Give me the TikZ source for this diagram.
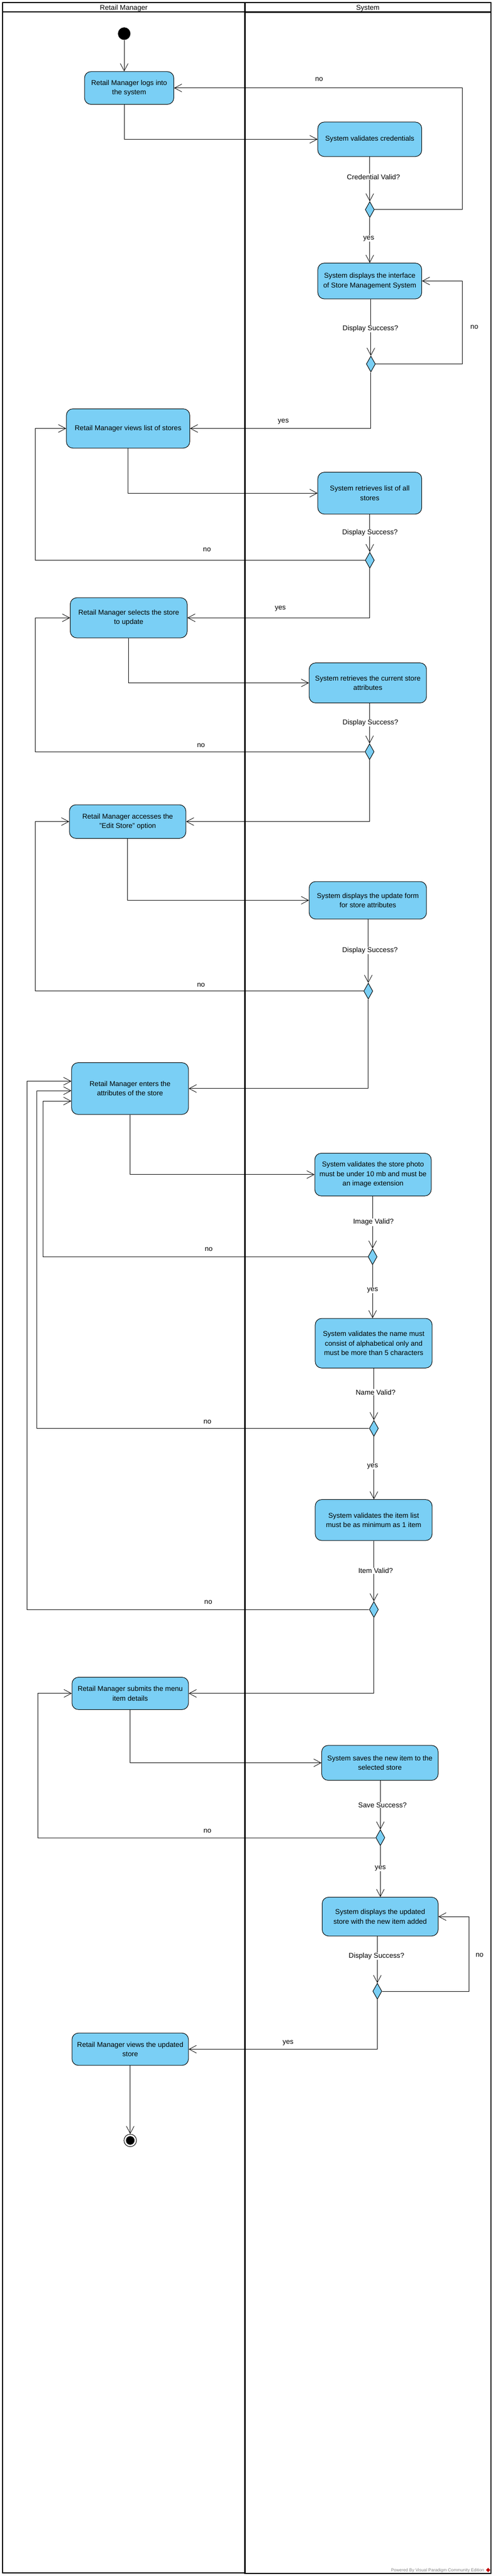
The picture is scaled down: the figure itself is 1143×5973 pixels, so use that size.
\documentclass[tikz,border=0pt]{standalone}
\usepackage{fontspec}
\setmainfont{Liberation Sans}
\usetikzlibrary{arrows.meta,shapes.geometric}
\definecolor{actblue}{RGB}{122,207,245}
\begin{document}
\begin{tikzpicture}[x=1pt, y=-1pt,
        txt/.style={font=\fontsize{16.3}{22}\selectfont},
        act/.style={txt, draw, fill=actblue, rounded corners=15pt, line width=1.2pt, align=center, inner sep=0pt},
        dec/.style={diamond, draw, fill=actblue, line width=1.2pt, minimum width=21pt, minimum height=37pt, inner sep=0pt},
        flow/.style={line width=1pt, -{Straight Barb[length=17pt, width=18pt]}},
        guard/.style={txt, fill=white, inner sep=1pt},
        lane/.style={line width=2.5pt}]
        \useasboundingbox (0,0) rectangle (1143,5973);

        % Swimlanes
        \draw[lane] (5.5,6) rectangle (568,5966);
        \draw[lane] (568,6) rectangle (1138,5967);
        \draw[lane] (5.5,28) -- (568,28);
        \draw[line width=3.5pt] (568,28.5) -- (1138,28.5);
        \node[txt] (laneRM) at (287,19.5) {Retail Manager};
        \node[txt] (laneSys) at (853,19.5) {System};

        % Start and end
        \node[circle, fill=black, minimum size=29pt, inner sep=0pt] (S) at (288,78) {};
        \node[circle, draw, line width=1.2pt, fill=white, minimum size=29pt, inner sep=0pt,
              path picture={\fill[black] (path picture bounding box.center) circle[radius=10pt];}] (E) at (302,4963) {};

        % Activities of the Retail Manager
        \node[act, minimum width=207pt, minimum height=76pt] (B1) at (299.5,204) {Retail Manager logs into\\the system};
        \node[act, minimum width=286pt, minimum height=91pt] (B4) at (297,993.5) {Retail Manager views list of stores};
        \node[act, minimum width=271pt, minimum height=93pt] (B6) at (298.5,1432.5) {Retail Manager selects the store\\to update};
        \node[act, minimum width=270pt, minimum height=78pt] (B8) at (296,1905) {Retail Manager accesses the\\"Edit Store" option};
        \node[act, minimum width=271pt, minimum height=120pt] (B10) at (301.5,2524) {Retail Manager enters the\\attributes of the store};
        \node[act, minimum width=270pt, minimum height=75pt] (B14) at (302,3926.5) {Retail Manager submits the menu\\item details};
        \node[act, minimum width=270pt, minimum height=75pt] (B17) at (302,4751.5) {Retail Manager views the updated\\store};

        % Activities of the System
        \node[act, minimum width=241pt, minimum height=80pt] (B2) at (857.5,323) {System validates credentials};
        \node[act, minimum width=241pt, minimum height=83pt] (B3) at (857.5,651.5) {System displays the interface\\of Store Management System};
        \node[act, minimum width=241pt, minimum height=97pt] (B5) at (857.5,1143.5) {System retrieves list of all\\stores};
        \node[act, minimum width=272pt, minimum height=93pt] (B7) at (853,1583.5) {System retrieves the current store\\attributes};
        \node[act, minimum width=272pt, minimum height=87pt] (B9) at (853,2087.5) {System displays the update form\\for store attributes};
        \node[act, minimum width=270pt, minimum height=99pt] (B11) at (865,2723.5) {System validates the store photo\\must be under 10 mb and must be\\an image extension};
        \node[act, minimum width=271pt, minimum height=115pt] (B12) at (866.5,3114.5) {System validates the name must\\consist of alphabetical only and\\must be more than 5 characters};
        \node[act, minimum width=271pt, minimum height=95pt] (B13) at (866.5,3524.5) {System validates the item list\\must be as minimum as 1 item};
        \node[act, minimum width=270pt, minimum height=81pt] (B15) at (881,4087.5) {System saves the new item to the\\selected store};
        \node[act, minimum width=269pt, minimum height=90pt] (B16) at (881.5,4444) {System displays the updated\\store with the new item added};

        % Decisions
        \node[dec] (D1) at (857.5,486) {};
        \node[dec] (D2) at (860,844) {};
        \node[dec] (D3) at (857.5,1299) {};
        \node[dec] (D4) at (857,1743) {};
        \node[dec] (D5) at (854,2298) {};
        \node[dec] (D6) at (864,2914) {};
        \node[dec] (D7) at (867,3312) {};
        \node[dec] (D8) at (867,3732) {};
        \node[dec] (D9) at (882,4261) {};
        \node[dec] (D10) at (875,4617) {};

        % Flow
        \draw[flow] (S) -- (S |- B1.north);
        \draw[flow] (B1.south -| S) |- (B2);
        \draw[flow] (B2) -- (D1);
        \draw[flow] (D1.east) -- ++(204,0) |- (B1);
        \draw[flow] (D1) -- (B3);
        \draw[flow] (B3.south -| D2) -- (D2);
        \draw[flow] (D2.east) -- ++(201.5,0) |- (B3);
        \draw[flow] (D2) |- (B4);
        \draw[flow] (B4.south) |- (B5);
        \draw[flow] (B5) -- (D3);
        \draw[flow] (D3.west) -- ++(-765,0) |- (B4);
        \draw[flow] (D3) |- (B6);
        \draw[flow] (B6.south) |- (B7);
        \draw[flow] (B7.south -| D4) -- (D4);
        \draw[flow] (D4.west) -- ++(-764.5,0) |- (B6);
        \draw[flow] (D4) |- (B8);
        \draw[flow] (B8.south) |- (B9);
        \draw[flow] (B9.south -| D5) -- (D5);
        \draw[flow] (D5.west) -- ++(-761.5,0) |- (B8);
        \draw[flow] (D5) |- (B10);
        \draw[flow] (B10.south) |- (B11);
        \draw[flow] (B11.south -| D6) -- (D6);
        \draw[flow] (D6.west) -- ++(-753.5,0) |- ([yshift=-29pt]B10.west);
        \draw[flow] (D6) -- (D6 |- B12.north);
        \draw[flow] (B12.south -| D7) -- (D7);
        \draw[flow] (D7.west) -- ++(-770.5,0) |- ([yshift=-5pt]B10.west);
        \draw[flow] (D7) -- (D7 |- B13.north);
        \draw[flow] (B13.south -| D8) -- (D8);
        \draw[flow] (D8.west) -- ++(-793.5,0) |- ([yshift=17pt]B10.west);
        \draw[flow] (D8) |- (B14);
        \draw[flow] (B14.south) |- (B15);
        \draw[flow] (B15.south -| D9) -- (D9);
        \draw[flow] (D9.west) -- ++(-783.5,0) |- (B14);
        \draw[flow] (D9) -- (D9 |- B16.north);
        \draw[flow] (B16.south -| D10) -- (D10);
        \draw[flow] (D10.east) -- ++(201.5,0) |- (B16);
        \draw[flow] (D10) |- (B17);
        \draw[flow] (B17) -- (E);

        % Guards
        \node[guard] (g1) at (866,410) {Credential Valid?};
        \node[guard] (g2) at (859,762) {Display Success?};
        \node[guard] (g3) at (858,1235) {Display Success?};
        \node[guard] (g4) at (859,1676) {Display Success?};
        \node[guard] (g5) at (858,2204) {Display Success?};
        \node[guard] (g6) at (866,2834) {Image Valid?};
        \node[guard] (g7) at (871,3228) {Name Valid?};
        \node[guard] (g8) at (871,3642) {Item Valid?};
        \node[guard] (g9) at (887,4185) {Save Success?};
        \node[guard] (g10) at (873,4536) {Display Success?};

        % yes / no labels
        \node[txt] (no1) at (740,184) {no};
        \node[guard] (yes1) at (855,553) {yes};
        \node[txt] (no2) at (1100,759) {no};
        \node[txt] (yes2) at (657,978) {yes};
        \node[txt] (no3) at (480,1275) {no};
        \node[txt] (yes3) at (650,1411) {yes};
        \node[txt] (no4) at (466,1728) {no};
        \node[txt] (no5) at (466,2284) {no};
        \node[txt] (no6) at (484,2897) {no};
        \node[guard] (yes6) at (864,2991) {yes};
        \node[txt] (no7) at (481,3297) {no};
        \node[guard] (yes7) at (864,3400) {yes};
        \node[txt] (no8) at (483,3715) {no};
        \node[txt] (no9) at (481,4245) {no};
        \node[guard] (yes9) at (882,4332) {yes};
        \node[txt] (no10) at (1112,4533) {no};
        \node[txt] (yes10) at (668,4737) {yes};

        % Watermark
        \node[font=\fontsize{10}{12}\selectfont, text=gray, anchor=base east, inner sep=0pt] (vp) at (1123,5963) {Powered By Visual Paradigm Community Edition};
        \node[diamond, fill=red!75!black, minimum size=10pt, inner sep=0pt] (vplogo) at (1132,5959) {};

    \end{tikzpicture}
\end{document}
